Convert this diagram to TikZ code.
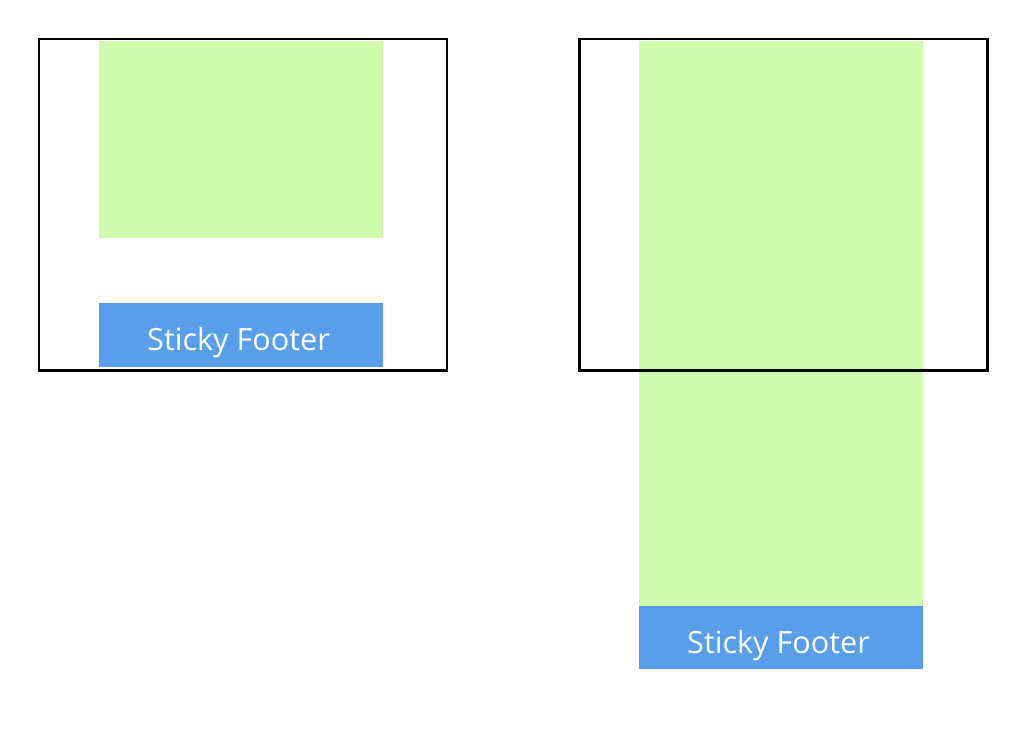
\documentclass[tikz,border=0pt]{standalone}
\usepackage{fontspec}
\setsansfont{Open Sans}
\definecolor{pagegreen}{HTML}{D0FCB0}
\definecolor{footblue}{HTML}{589EEB}
\tikzset{
  frame/.style={draw=black, line width=0.85pt},
  content/.style={fill=pagegreen},
  footer/.style={fill=footblue, inner sep=0pt, minimum width=284*0.01cm},
  footertext/.style={text=white, inner sep=0pt, anchor=base, font=\sffamily\fontsize{8.7}{10}\selectfont},
}

\begin{document}
\begin{tikzpicture}[x=0.01cm, y=-0.01cm]
    \useasboundingbox (0,0) rectangle (1024,745);

    % left: short content, footer sits at the bottom of the window
    \fill[content] (99,41) rectangle (383,238);
    \node[footer, minimum height=64*0.01cm] (footA) at (241,335) {};
    \node[footertext] (footAtext) at (238.5,350) {Sticky Footer};
    \draw[frame] (39,39) rectangle (447,370);

    % right: long content, footer pushed below the window
    \fill[content] (639,41) rectangle (923,606);
    \node[footer, minimum height=63*0.01cm] (footB) at (781,637.5) {};
    \node[footertext] (footBtext) at (778.5,653) {Sticky Footer};
    \draw[frame] (579,39) rectangle (987,370);

  \end{tikzpicture}
\end{document}
